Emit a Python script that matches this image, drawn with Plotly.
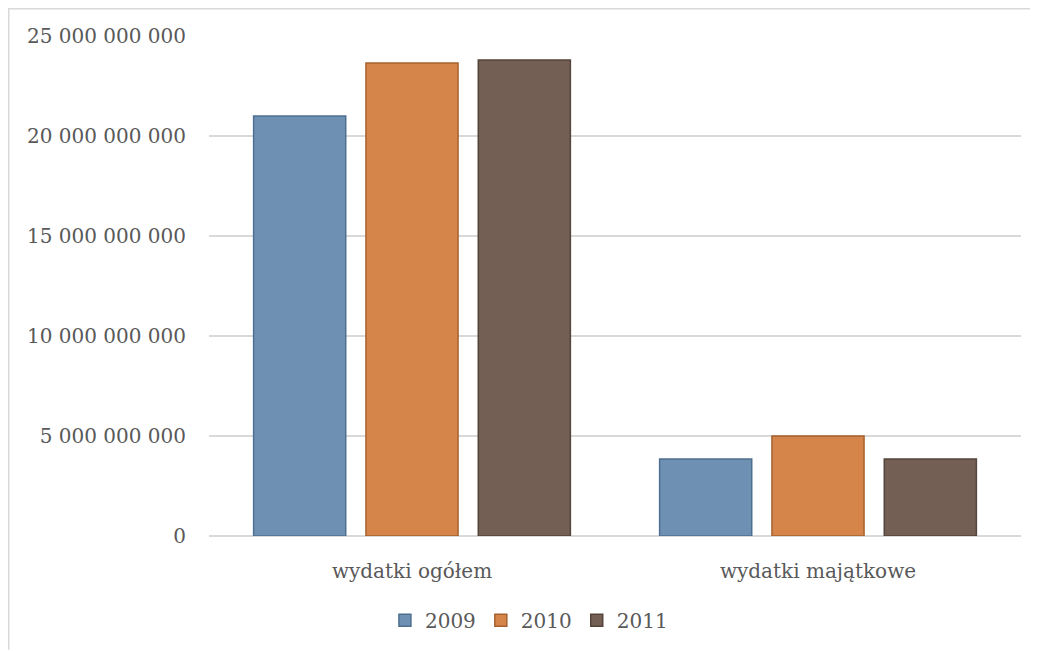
import plotly.graph_objects as go

categories = ["wydatki ogółem", "wydatki majątkowe"]
years = ["2009", "2010", "2011"]
values_2009 = [21.0e9, 3.85e9]
values_2010 = [23.65e9, 5.0e9]
values_2011 = [23.8e9, 3.85e9]
series = [values_2009, values_2010, values_2011]
y_ticks = [0, 5e9, 10e9, 15e9, 20e9, 25e9]

fills = ["#6e91b3", "#d6854a", "#735f53"]
edges = ["#4f6f8f", "#a5622e", "#54443b"]

FONT = "DejaVu Serif"
TXT = "#595959"

W, H = 1030, 643
L, R, T, B = 201, 17, 28, 114
PW, PH = W - L - R, H - T - B

fig = go.Figure()
for name, vals, fc, ec in zip(years, series, fills, edges):
    fig.add_trace(go.Bar(
        x=categories, y=vals, name=name,
        marker=dict(color=fc, line=dict(color=ec, width=1.5)),
    ))

fig.update_layout(
    width=W, height=H,
    paper_bgcolor="white", plot_bgcolor="white",
    margin=dict(l=L, r=R, t=T, b=B),
    barmode="group", bargap=0.17, bargroupgap=0.18,
    separators=", ",
    font=dict(family=FONT, size=20, color=TXT),
    showlegend=True,
    legend=dict(orientation="h", x=0.394, xanchor="center", y=-0.166, yanchor="middle",
                font=dict(family=FONT, size=20, color=TXT), itemwidth=30,
                traceorder="normal", bgcolor="rgba(0,0,0,0)"),
    xaxis=dict(showgrid=False, showline=False, ticks="", ticklabelstandoff=21,
               tickfont=dict(family=FONT, size=20, color=TXT)),
    yaxis=dict(range=[0, 25e9], tickvals=y_ticks, tickformat=",d",
               showgrid=True, gridcolor="#d9d9d9", gridwidth=1.5,
               zeroline=True, zerolinecolor="#d9d9d9", zerolinewidth=1.5,
               showline=False, ticks="", ticklabelstandoff=22,
               tickfont=dict(family=FONT, size=20, color=TXT)),
    shapes=[
        dict(type="line", xref="paper", yref="paper", x0=-L / PW, x1=(W - L) / PW,
             y0=1 + (T - 0.75) / PH, y1=1 + (T - 0.75) / PH,
             line=dict(color="#d9d9d9", width=1.5)),
        dict(type="line", xref="paper", yref="paper", x0=-(L - 0.75) / PW, x1=-(L - 0.75) / PW,
             y0=1 + T / PH, y1=-B / PH, line=dict(color="#d9d9d9", width=1.5)),
    ],
)

fig.write_html("out.html")
